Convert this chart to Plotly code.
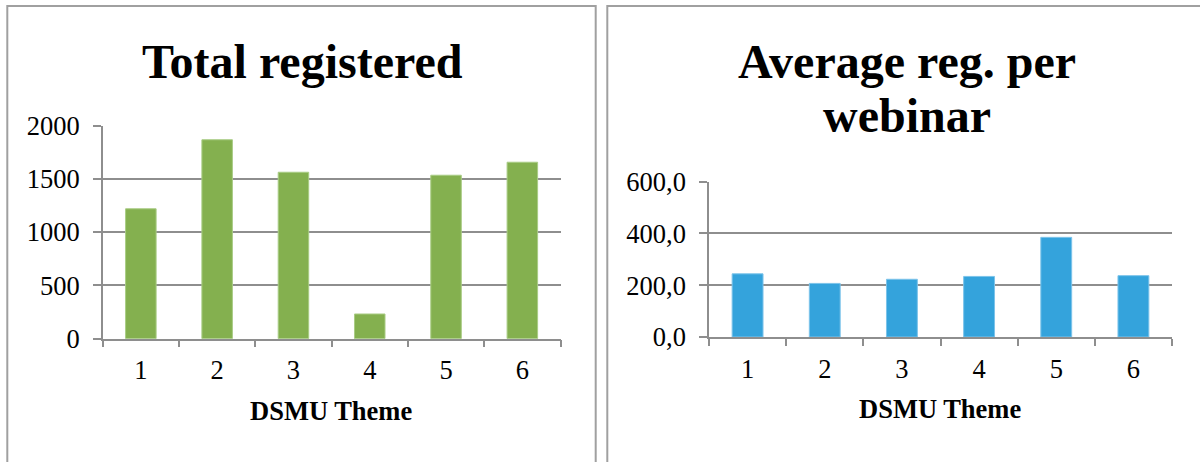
import plotly.graph_objects as go

themes = ["1", "2", "3", "4", "5", "6"]
total_registered = [1220, 1868, 1563, 232, 1535, 1657]
avg_per_webinar = [244.0, 207.0, 223.0, 234.0, 385.0, 237.0]

title_left = "Total registered"
title_right_1 = "Average reg. per"
title_right_2 = "webinar"
x_title = "DSMU Theme"

W, H = 1200, 462
FONT = "Liberation Serif"
GREEN = "#84B04F"
BLUE = "#34A3DC"
GRID = "#8E8E8E"
BORDER = "#A0A0A0"

def px(x):
    return x / W

def py(y):
    return 1 - y / H

fig = go.Figure()
fig.add_trace(go.Bar(x=themes, y=total_registered,
                     marker=dict(color=GREEN, line=dict(width=1, color="#A9CC85")),
                     xaxis="x", yaxis="y", showlegend=False))
fig.add_trace(go.Bar(x=themes, y=avg_per_webinar,
                     marker=dict(color=BLUE, line=dict(width=1, color="#7CC3EA")),
                     xaxis="x2", yaxis="y2", showlegend=False))

tickfont = dict(family=FONT, size=26.5, color="black")

common_x = dict(type="category", showline=True, linecolor=GRID, linewidth=1.5,
                ticks="outside", tickson="boundaries", ticklen=7, tickwidth=1.5,
                tickcolor=GRID, tickfont=tickfont, showgrid=False, zeroline=False,
                ticklabelstandoff=7, automargin=False)
common_y = dict(showline=True, linecolor=GRID, linewidth=1.5, ticks="outside",
                ticklen=8, tickwidth=1.5, tickcolor=GRID, tickfont=tickfont,
                showgrid=True, gridcolor=GRID, gridwidth=1.5, zeroline=False,
                ticklabelstandoff=8, automargin=False)

fig.update_layout(
    width=W, height=H, autosize=False,
    margin=dict(l=0, r=0, t=0, b=0, pad=0, autoexpand=False),
    showlegend=False,
    paper_bgcolor="white", plot_bgcolor="white",
    separators=",.",
    bargap=0.6,
    xaxis=dict(domain=[px(102.7), px(560.5)], anchor="y", **common_x),
    yaxis=dict(domain=[py(338.7), py(125.7)], anchor="x", range=[0, 2000],
               dtick=500, tickformat="d", **common_y),
    xaxis2=dict(domain=[px(709), px(1172)], anchor="y2", **common_x),
    yaxis2=dict(domain=[py(337), py(181.7)], anchor="x2", range=[0, 600],
                dtick=200, tickformat=".1f", **common_y),
    shapes=[
        dict(type="rect", xref="paper", yref="paper", x0=px(7.3), x1=px(595.7),
             y0=-0.2, y1=py(6), line=dict(color=BORDER, width=2), layer="below"),
        dict(type="rect", xref="paper", yref="paper", x0=px(607.3), x1=1.2,
             y0=-0.2, y1=py(6), line=dict(color=BORDER, width=2), layer="below"),
    ],
    annotations=[
        dict(text="<b>%s</b>" % title_left, x=px(302), y=py(61), xref="paper", yref="paper",
             xanchor="center", yanchor="middle", showarrow=False,
             font=dict(family=FONT, size=48, color="black")),
        dict(text="<b>%s</b>" % title_right_1, x=px(907), y=py(61), xref="paper", yref="paper",
             xanchor="center", yanchor="middle", showarrow=False,
             font=dict(family=FONT, size=48, color="black")),
        dict(text="<b>%s</b>" % title_right_2, x=px(907), y=py(116), xref="paper", yref="paper",
             xanchor="center", yanchor="middle", showarrow=False,
             font=dict(family=FONT, size=48, color="black")),
        dict(text="<b>%s</b>" % x_title, x=px(331.4), y=py(411), xref="paper", yref="paper",
             xanchor="center", yanchor="middle", showarrow=False,
             font=dict(family=FONT, size=26.5, color="black")),
        dict(text="<b>%s</b>" % x_title, x=px(940.5), y=py(409), xref="paper", yref="paper",
             xanchor="center", yanchor="middle", showarrow=False,
             font=dict(family=FONT, size=26.5, color="black")),
    ],
)

fig.write_html("out.html")
